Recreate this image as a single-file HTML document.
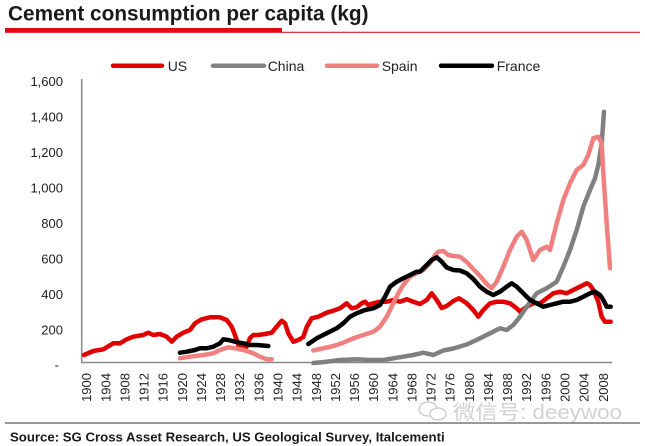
<!DOCTYPE html>
<html><head><meta charset="utf-8"><style>
html,body{margin:0;padding:0;background:#fff;}
svg{display:block;}
text{font-family:"Liberation Sans",Arial,sans-serif;}
</style></head><body>
<svg width="645" height="446" viewBox="0 0 645 446" xmlns="http://www.w3.org/2000/svg">
<rect width="645" height="446" fill="#fff"/>
<!-- Title -->
<text x="8" y="20.5" font-size="20.8" font-weight="bold" fill="#1a1a1a">Cement consumption per capita (kg)</text>
<rect x="5" y="28" width="277" height="4.8" fill="#e30613"/>
<line x1="282" y1="32.3" x2="640" y2="32.3" stroke="#d0202a" stroke-width="1.2"/>

<!-- Legend -->
<g stroke-width="4.5" stroke-linecap="round">
<line x1="113" y1="65.7" x2="162" y2="65.7" stroke="#e00000"/>
<line x1="213" y1="65.7" x2="264" y2="65.7" stroke="#808080"/>
<line x1="327" y1="65.7" x2="377" y2="65.7" stroke="#f08080"/>
<line x1="441" y1="65.7" x2="492" y2="65.7" stroke="#000"/>
</g>
<g font-size="14" fill="#222">
<text x="167.7" y="71">US</text>
<text x="267.7" y="71">China</text>
<text x="381.7" y="71">Spain</text>
<text x="496.7" y="71">France</text>
</g>

<!-- Y axis labels -->
<g font-size="13" fill="#222" text-anchor="end">
<text x="63" y="86">1,600</text>
<text x="63" y="121.5">1,400</text>
<text x="63" y="157">1,200</text>
<text x="63" y="192.5">1,000</text>
<text x="63" y="228">800</text>
<text x="63" y="263.5">600</text>
<text x="63" y="299">400</text>
<text x="63" y="334.5">200</text>
<text x="59" y="369.5">-</text>
</g>

<!-- Axes -->
<line x1="81.7" y1="79" x2="81.7" y2="363" stroke="#888" stroke-width="1.5"/>
<line x1="81" y1="362.5" x2="612" y2="362.5" stroke="#888" stroke-width="1.5"/>

<!-- X labels -->
<g font-size="13" fill="#222" text-anchor="end">
<text transform="translate(91.2,373) rotate(-90)">1900</text>
<text transform="translate(110.3,373) rotate(-90)">1904</text>
<text transform="translate(129.5,373) rotate(-90)">1908</text>
<text transform="translate(148.6,373) rotate(-90)">1912</text>
<text transform="translate(167.7,373) rotate(-90)">1916</text>
<text transform="translate(186.9,373) rotate(-90)">1920</text>
<text transform="translate(206,373) rotate(-90)">1924</text>
<text transform="translate(225.1,373) rotate(-90)">1928</text>
<text transform="translate(244.2,373) rotate(-90)">1932</text>
<text transform="translate(263.4,373) rotate(-90)">1936</text>
<text transform="translate(282.5,373) rotate(-90)">1940</text>
<text transform="translate(301.6,373) rotate(-90)">1944</text>
<text transform="translate(320.8,373) rotate(-90)">1948</text>
<text transform="translate(339.9,373) rotate(-90)">1952</text>
<text transform="translate(359,373) rotate(-90)">1956</text>
<text transform="translate(378.2,373) rotate(-90)">1960</text>
<text transform="translate(397.3,373) rotate(-90)">1964</text>
<text transform="translate(416.4,373) rotate(-90)">1968</text>
<text transform="translate(435.6,373) rotate(-90)">1972</text>
<text transform="translate(454.7,373) rotate(-90)">1976</text>
<text transform="translate(473.8,373) rotate(-90)">1980</text>
<text transform="translate(493,373) rotate(-90)">1984</text>
<text transform="translate(512.1,373) rotate(-90)">1988</text>
<text transform="translate(531.2,373) rotate(-90)">1992</text>
<text transform="translate(550.4,373) rotate(-90)">1996</text>
<text transform="translate(569.5,373) rotate(-90)">2000</text>
<text transform="translate(588.6,373) rotate(-90)">2004</text>
<text transform="translate(607.8,373) rotate(-90)">2008</text>
</g>

<!-- Series -->
<g fill="none" stroke-width="4.5" stroke-linejoin="round" stroke-linecap="round">
<polyline stroke="#e00000" points="84,355 93.3,351 103.3,349.3 113.3,343.3 120,343.3 126.7,339.3 133.3,336.7 143.3,335 148.3,332.7 153.3,335 160,334 166.7,336.7 171.7,341.7 176.7,336.7 183.3,332.7 190,330 195,323.3 201.7,319.3 210,317.3 220,317.3 226.7,320 231.7,326.7 235,335 238.3,345 242,348 246.7,346.7 250,338 253.3,335 258.3,335 265,334 271.7,332.7 276.7,326.7 281.7,320.7 285,323.3 288.3,333.3 293.3,341.7 298.3,340 303.3,337 306.7,327 311.7,318.3 318.3,316.7 326.7,312.7 333.3,310.7 340,308.3 346.7,303.3 351.7,308.3 356.7,307.3 361.7,303.3 365,301.7 368.3,305 373.3,303.3 380,301.7 386.7,301.7 393.3,300 400,301.7 406.7,299.3 413.3,301.7 420,304 426.7,300 431.7,293.3 436.7,300 441.7,308 446.7,306 453.3,301 459,298.3 466.7,303.3 473.3,310 478.3,316.7 483.3,310 490,303.3 496.7,301.7 503.3,301.7 510,303.3 516.7,308.3 520,311.7 526.7,306.7 533.3,303.3 540,303.3 546.7,298.3 553.3,293.3 560,291.7 566.7,293.3 573.3,290 580,286.7 586.7,283.3 590,285 593.3,290 598.3,301.7 601.7,316.7 605,321.7 610.7,321.7"/>
<polyline stroke="#808080" points="313.3,363 326.7,361.7 340,360 356.7,359.3 370,360 383.3,360 393.3,358.3 403.3,356.7 413.3,355 423.3,352.7 433.3,355 443.3,350.5 453.3,348.5 466.7,344.5 480,338.3 493.3,331.7 500,328.3 506.7,330 513.3,325 520,316.7 526.7,306.7 536.7,293.3 546.7,288.3 556.7,281.7 563.3,266.7 570,250 576.7,230 583.3,206.7 590,190 595,178.3 598.3,165 601.7,143.3 604,111.7"/>
<polyline stroke="#f08080" points="180,358.3 190,356.7 203.3,355 213.3,353.3 220,350 228.3,347.3 235,348.3 243.3,350 253.3,353.3 260,356.7 266.7,359.3 271.7,359.3"/>
<polyline stroke="#f08080" points="313.3,350.5 323.3,348.3 333.3,346 343.3,342.7 353.3,338.3 363.3,335 373.3,331.7 380,326.7 386.7,316.7 393.3,303.3 398.3,293.3 403.3,285 410,276.7 416.7,273.3 423.3,270 430,263.3 435,255 438.3,251.7 443.3,251 448.3,255 453.3,256 460,256.7 466.7,262 473.3,269 480,276 486.7,284 491.7,288.3 496.7,281.7 503.3,266.7 510,250 516.7,236.7 521.7,231.7 526.7,240 533.3,260 540,250 546.7,246.7 550,250 556.7,223.3 563.3,200 570,183.3 576.7,170 583.3,165 588.3,155 593.3,138.3 598.3,136.7 601.7,143.3 603.3,173.3 606.7,223.3 610,268.3"/>
<polyline stroke="#000" points="180,352.7 186.7,351.7 195,350 200,348.3 206.7,348.3 213.3,346.7 220,343.3 223.3,339.3 228.3,340 235,341.7 243.3,343.3 250,345 256.7,345 268.3,346"/>
<polyline stroke="#000" points="308.3,344 316.7,338.3 326.7,333.3 336.7,328.3 343.3,323.3 350,316.7 356.7,313.3 365,310 373.3,308.3 380,305 385,296.7 390,286.7 396.7,281.7 403.3,278.3 410,275 416.7,271.7 420,271.7 426.7,265 431.7,260 436.7,257.3 441.7,261.7 446.7,267.5 453.3,270 460,270.5 466.7,273.3 473.3,279 480,286.7 486.7,291.7 493.3,295 500,291.7 506.7,286.7 511.7,283.3 516.7,286.7 523.3,293.3 530,300 536.7,303.3 543.3,306.7 550,305 556.7,303.3 563.3,301.7 570,301.7 576.7,300 583.3,296.7 590,293.3 595,291.7 600,295 603.3,300 606.7,306.7 610.7,306.7"/>
</g>

<!-- Watermark -->
<g fill="none" stroke="#cfcfcf" stroke-width="1.5">
<ellipse cx="428" cy="409" rx="9" ry="7"/>
<ellipse cx="438" cy="414" rx="8" ry="6" fill="#fff"/>
</g>
<text x="453" y="419" font-size="20" fill="#d2d2d2" textLength="169" lengthAdjust="spacingAndGlyphs" style='font-family:"Liberation Sans","Noto Sans CJK SC",sans-serif'>微信号: deeywoo</text>

<!-- Bottom separator and source -->
<line x1="5" y1="423" x2="640" y2="423" stroke="#777" stroke-width="1.5"/>
<text x="10" y="441.5" font-size="13.2" font-weight="bold" fill="#1a1a1a">Source: SG Cross Asset Research, US Geological Survey, Italcementi</text>
</svg>
</body></html>
